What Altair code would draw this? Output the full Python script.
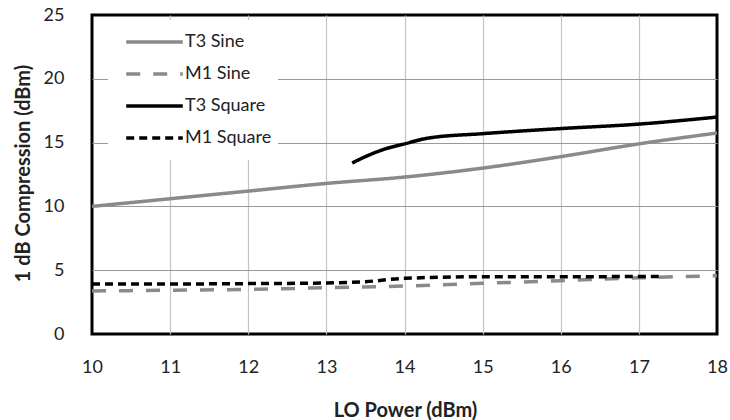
import altair as alt
import pandas as pd

series_order = ["T3 Sine", "M1 Sine", "T3 Square", "M1 Square"]

t3_sine_x = [10, 11, 12, 13, 14, 15, 16, 17, 18]
t3_sine_y = [10.0, 10.6, 11.2, 11.8, 12.3, 13.0, 13.9, 14.9, 15.75]

m1_sine_x = [10, 11, 12, 13, 14, 15, 16, 17, 18]
m1_sine_y = [3.37, 3.43, 3.5, 3.63, 3.76, 3.97, 4.18, 4.4, 4.57]

t3_square_x = [13.33, 13.5, 13.75, 14.0, 14.3, 15, 16, 17, 18]
t3_square_y = [13.4, 13.9, 14.5, 14.9, 15.35, 15.7, 16.1, 16.45, 17.0]

m1_square_x = [10, 11, 12, 13, 13.5, 14, 15, 16, 17, 17.27]
m1_square_y = [3.92, 3.92, 3.95, 4.0, 4.1, 4.36, 4.49, 4.49, 4.5, 4.5]

rows = []
for name, xs, ys in [("T3 Sine", t3_sine_x, t3_sine_y),
                     ("M1 Sine", m1_sine_x, m1_sine_y),
                     ("T3 Square", t3_square_x, t3_square_y),
                     ("M1 Square", m1_square_x, m1_square_y)]:
    for x, y in zip(xs, ys):
        rows.append({"series": name, "lo": x, "comp": y})
df = pd.DataFrame(rows)

FONT = "Lato"

x_grid_op = alt.condition("datum.value == 10 || datum.value == 18", alt.value(0), alt.value(1))
y_grid_op = alt.condition("datum.value == 0 || datum.value == 25", alt.value(0), alt.value(1))

chart = alt.Chart(df).mark_line(strokeWidth=3.5, interpolate="monotone").encode(
    x=alt.X("lo:Q", scale=alt.Scale(domain=[10, 18], nice=False),
            axis=alt.Axis(title="LO Power (dBm)", values=list(range(10, 19)),
                          grid=True, ticks=False, domain=False, labelFlush=False,
                          labelPadding=24, labelFontSize=18, labelFont=FONT,
                          labelColor="#222", gridColor="#c4c4c4", gridWidth=1.2,
                          gridOpacity=x_grid_op,
                          titleFont=FONT, titleFontSize=20, titleFontWeight="bold",
                          titleColor="#222", titleX=313, titleY=76,
                          titleAnchor="middle", titleAlign="center",
                          titleBaseline="middle")),
    y=alt.Y("comp:Q", scale=alt.Scale(domain=[0, 25], nice=False),
            axis=alt.Axis(title="1 dB Compression (dBm)", values=[0, 5, 10, 15, 20, 25],
                          grid=True, ticks=False, domain=False, labelFlush=False,
                          labelPadding=28, labelFontSize=18, labelFont=FONT,
                          labelColor="#222", gridColor="#999999", gridWidth=1.2,
                          gridOpacity=y_grid_op,
                          titleFont=FONT, titleFontSize=20, titleFontWeight="bold",
                          titleColor="#222", titleX=-69, titleY=158,
                          titleAngle=-90, titleAlign="center", titleBaseline="middle")),
    color=alt.Color("series:N", sort=series_order,
                    scale=alt.Scale(domain=series_order,
                                    range=["#8a8a8a", "#8a8a8a", "#000000", "#000000"]),
                    legend=alt.Legend(title=None, orient="none", legendX=16, legendY=5,
                                      fillColor="white", symbolType="stroke",
                                      symbolSize=3200, symbolStrokeWidth=3.5,
                                      clipHeight=32,
                                      labelFont=FONT, labelFontSize=18, labelColor="#222",
                                      labelOffset=0, rowPadding=0, padding=6,
                                      symbolOffset=10)),
    strokeDash=alt.StrokeDash("series:N", sort=series_order,
                              scale=alt.Scale(domain=series_order,
                                              range=[[1, 0], [14, 13], [1, 0], [8, 5]]),
                              legend=None),
    order=alt.Order("lo:Q"),
).properties(
    width=625, height=319,
    background="white",
    autosize=alt.AutoSizeParams(type="none"),
    padding={"left": 92, "top": 15, "right": 13, "bottom": 86},
).configure_view(stroke="black", strokeWidth=3)

chart.save("out.html", embed_options={"renderer": "svg", "actions": False})
